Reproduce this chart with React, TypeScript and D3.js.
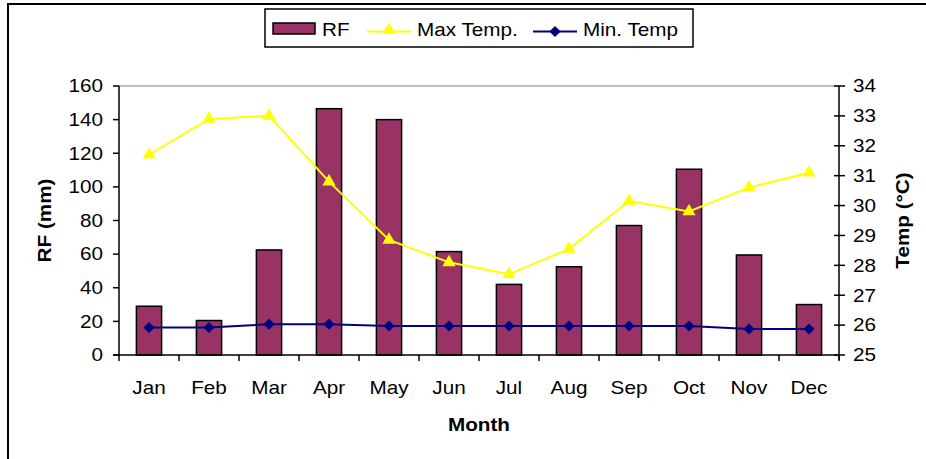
import React from "react"
import * as d3 from "d3"

const months = ["Jan", "Feb", "Mar", "Apr", "May", "Jun", "Jul", "Aug", "Sep", "Oct", "Nov", "Dec"]
const rainfall = [29, 20.5, 62.5, 146.5, 140, 61.5, 42, 52.5, 77, 110.5, 59.5, 30]
const maxTemp = [31.7, 32.9, 33.0, 30.8, 28.85, 28.1, 27.7, 28.55, 30.15, 29.8, 30.6, 31.1]
const minTemp = [25.92, 25.92, 26.03, 26.03, 25.97, 25.97, 25.97, 25.97, 25.97, 25.97, 25.87, 25.87]
const rfTicks = [0, 20, 40, 60, 80, 100, 120, 140, 160]
const tempTicks = [25, 26, 27, 28, 29, 30, 31, 32, 33, 34]

const width = 926
const height = 459
const margin = { top: 86, right: 87, bottom: 104, left: 119 }
const font = "'Liberation Sans', Arial, sans-serif"

// the original text is a little wider than plain Arial, so stretch it a bit
function Txt(props: any) {
  const { x, y, rot, sx = 1.15, children, ...rest } = props
  const r = rot ? ` rotate(${rot})` : ""
  return (
    <g transform={`translate(${x},${y})${r} scale(${sx},1)`}>
      <text {...rest}>{children}</text>
    </g>
  )
}

export default function App() {
  const x0 = margin.left
  const x1 = width - margin.right
  const yTop = margin.top
  const yBot = height - margin.bottom

  const x = d3.scaleBand<string>().domain(months).range([x0, x1]).padding(0)
  const yRF = d3.scaleLinear().domain([0, 160]).range([yBot, yTop])
  const yT = d3.scaleLinear().domain([25, 34]).range([yBot, yTop])
  const cx = (m: string) => (x(m) as number) + x.bandwidth() / 2
  const barW = x.bandwidth() * 0.42

  const line = d3
    .line<number>()
    .x((d, i) => cx(months[i]))
    .y((d) => yT(d))

  const tri = d3.symbol().type(d3.symbolTriangle).size(75)()
  const diamond = d3.symbol().type(d3.symbolDiamond2).size(80)()

  return (
    <svg
      width={width}
      height={height}
      style={{ position: "absolute", left: 0, top: 0, background: "#fff" }}
      fontFamily={font}
    >
      {/* outer chart frame */}
      <rect x={8} y={4} width={width} height={height} fill="none" stroke="#000" strokeWidth={2} />

      {/* plot area top border */}
      <line x1={x0} x2={x1} y1={yTop} y2={yTop} stroke="#808080" strokeWidth={1} />

      {/* bars */}
      {months.map((m, i) => (
        <rect
          key={m}
          x={cx(m) - barW / 2}
          y={yRF(rainfall[i])}
          width={barW}
          height={yBot - yRF(rainfall[i])}
          fill="#993366"
          stroke="#000"
          strokeWidth={1.5}
        />
      ))}

      {/* max temp */}
      <path d={line(maxTemp) as string} fill="none" stroke="#FFFF00" strokeWidth={2} />
      {maxTemp.map((v, i) => (
        <path key={i} d={tri as string} transform={`translate(${cx(months[i])},${yT(v)})`} fill="#FFFF00" />
      ))}

      {/* min temp */}
      <path d={line(minTemp) as string} fill="none" stroke="#000080" strokeWidth={2} />
      {minTemp.map((v, i) => (
        <path key={i} d={diamond as string} transform={`translate(${cx(months[i])},${yT(v)})`} fill="#000080" />
      ))}

      {/* left axis */}
      <line x1={x0} x2={x0} y1={yTop} y2={yBot} stroke="#000" strokeWidth={1.5} />
      {rfTicks.map((t) => (
        <g key={t}>
          <line x1={x0 - 6} x2={x0} y1={yRF(t)} y2={yRF(t)} stroke="#000" strokeWidth={1.5} />
          <Txt x={x0 - 16} y={yRF(t)} dy="0.35em" textAnchor="end" fontSize={18}>
            {t}
          </Txt>
        </g>
      ))}

      {/* right axis */}
      <line x1={x1} x2={x1} y1={yTop} y2={yBot + 5} stroke="#000" strokeWidth={1.5} />
      {tempTicks.map((t) => (
        <g key={t}>
          <line x1={x1 - 5} x2={x1 + 6} y1={yT(t)} y2={yT(t)} stroke="#000" strokeWidth={1.5} />
          <Txt x={x1 + 14} y={yT(t)} dy="0.35em" textAnchor="start" fontSize={18}>
            {t}
          </Txt>
        </g>
      ))}

      {/* bottom axis */}
      <line x1={x0 - 6} x2={x1} y1={yBot} y2={yBot} stroke="#000" strokeWidth={1.5} />
      {months.map((m) => (
        <line
          key={m}
          x1={(x(m) as number) + x.bandwidth()}
          x2={(x(m) as number) + x.bandwidth()}
          y1={yBot}
          y2={yBot + 6}
          stroke="#000"
          strokeWidth={1.5}
        />
      ))}
      <line x1={x0} x2={x0} y1={yBot} y2={yBot + 6} stroke="#000" strokeWidth={1.5} />
      {months.map((m) => (
        <Txt key={m} x={cx(m)} y={yBot + 39} textAnchor="middle" fontSize={18}>
          {m}
        </Txt>
      ))}

      {/* axis titles */}
      <Txt x={(x0 + x1) / 2} y={yBot + 76} textAnchor="middle" fontSize={18} fontWeight="bold">
        Month
      </Txt>
      <Txt x={51} y={(yTop + yBot) / 2} rot={-90} textAnchor="middle" fontSize={18} fontWeight="bold">
        RF (mm)
      </Txt>
      <Txt x={909} y={(yTop + yBot) / 2} rot={-90} textAnchor="middle" fontSize={18} fontWeight="bold">
        Temp (°C)
      </Txt>

      {/* legend */}
      <g>
        <rect x={265} y={9} width={428} height={38} fill="#fff" stroke="#000" strokeWidth={1.5} />
        <rect x={273} y={23} width={42} height={11} fill="#993366" stroke="#000" strokeWidth={1.5} />
        <Txt x={322} y={36} fontSize={18}>
          RF
        </Txt>
        <line x1={367} x2={411} y1={31.5} y2={31.5} stroke="#FFFF00" strokeWidth={2} />
        <path d={tri as string} transform="translate(389,30)" fill="#FFFF00" />
        <Txt x={417} y={36} fontSize={18}>
          Max Temp.
        </Txt>
        <line x1={533} x2={577} y1={31.5} y2={31.5} stroke="#000080" strokeWidth={2} />
        <path d={diamond as string} transform="translate(555,31.5)" fill="#000080" />
        <Txt x={583} y={36} fontSize={18}>
          Min. Temp
        </Txt>
      </g>
    </svg>
  )
}
